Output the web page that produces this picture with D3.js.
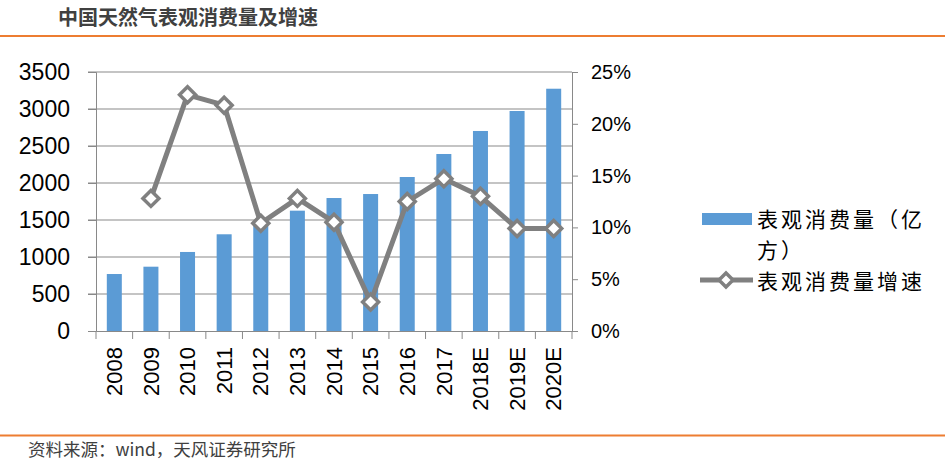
<!DOCTYPE html>
<html><head><meta charset="utf-8">
<script src="https://cdn.jsdelivr.net/npm/d3@7"></script>
<style>body{margin:0;background:#fff;}svg{display:block;}</style>
</head><body>
<svg id="c" width="945" height="463"></svg>
<script>
const categories = ["2008","2009","2010","2011","2012","2013","2014","2015","2016","2017","2018E","2019E","2020E"];
const consumption = [770, 869, 1068, 1307, 1470, 1626, 1797, 1851, 2081, 2392, 2703, 2973, 3274];
const growth = [null, 12.8, 22.8, 21.8, 10.4, 12.8, 10.5, 2.8, 12.5, 14.7, 13.0, 9.9, 9.9];
const leftTicks = [0,500,1000,1500,2000,2500,3000,3500];
const rightTicks = [0,5,10,15,20,25];
const title = "中国天然气表观消费量及增速";
const source = "资料来源：wind，天风证券研究所";
const legendNames = ["表观消费量（亿", "方）", "表观消费量增速"];

const svg = d3.select("#c");
const font = "'Liberation Sans', Arial, sans-serif";
const cjk = "'Noto Sans CJK SC', sans-serif";
const L = 96, R = 572, T = 72, B = 331;

const x = d3.scaleBand().domain(categories).range([L, R]);
const yL = d3.scaleLinear().domain([0, 3500]).range([B, T]);
const yR = d3.scaleLinear().domain([0, 25]).range([B, T]);

// title & rules
svg.append("text").attr("x", 58).attr("y", 25).text(title)
  .attr("font-family", cjk).attr("font-weight", "bold").attr("font-size", 20).attr("fill", "#404040");
svg.append("line").attr("x1", 0).attr("x2", 945).attr("y1", 36).attr("y2", 36).attr("stroke", "#ED7D31").attr("stroke-width", 2);
svg.append("line").attr("x1", 0).attr("x2", 945).attr("y1", 435.5).attr("y2", 435.5).attr("stroke", "#ED7D31").attr("stroke-width", 2);
svg.append("text").attr("x", 28).attr("y", 456).text(source)
  .attr("font-family", cjk).attr("font-size", 17.5).attr("fill", "#404040");

// gridlines
svg.append("g").selectAll("line").data(leftTicks.filter(d => d > 0)).join("line")
  .attr("x1", 88).attr("x2", R).attr("y1", d => yL(d)).attr("y2", d => yL(d))
  .attr("stroke", "#898989").attr("stroke-width", 1);

// bars
svg.append("g").selectAll("rect").data(consumption).join("rect")
  .attr("x", (d, i) => x(categories[i]) + x.bandwidth() / 2 - 7.5)
  .attr("width", 15)
  .attr("y", d => yL(d)).attr("height", d => B - yL(d))
  .attr("fill", "#5B9BD5");

// left axis
const gL = svg.append("g").attr("transform", `translate(${L},0)`)
  .call(d3.axisLeft(yL).tickValues(leftTicks).tickSize(8).tickPadding(18).tickFormat(d3.format("d")));
gL.select(".domain").attr("stroke", "#898989");
gL.selectAll(".tick line").attr("stroke", "#898989");
gL.selectAll("text").attr("font-family", font).attr("font-size", 23).attr("fill", "#000");

// right axis
const gR = svg.append("g").attr("transform", `translate(${R},0)`)
  .call(d3.axisRight(yR).tickValues(rightTicks).tickSize(6).tickPadding(13).tickFormat(d => d + "%"));
gR.select(".domain").attr("stroke", "#898989");
gR.selectAll(".tick line").attr("stroke", "#898989");
gR.selectAll("text").attr("font-family", font).attr("font-size", 20).attr("fill", "#000");

// bottom axis
const gB = svg.append("g").attr("transform", `translate(0,${B})`)
  .call(d3.axisBottom(x).tickSize(0).tickSizeOuter(0));
gB.select(".domain").attr("stroke", "#898989");
gB.selectAll(".tick text")
  .attr("font-family", font).attr("font-size", 22).attr("fill", "#000")
  .attr("transform", "rotate(-90)").attr("text-anchor", "end")
  .attr("x", -16).attr("y", 0).attr("dy", "0.35em");
// category boundary ticks
svg.append("g").selectAll("line").data(d3.range(categories.length + 1)).join("line")
  .attr("x1", i => L + i * x.step()).attr("x2", i => L + i * x.step())
  .attr("y1", B).attr("y2", B + 8).attr("stroke", "#898989");

// line
const pts = growth.map((g, i) => ({c: categories[i], g})).filter(d => d.g !== null);
const line = d3.line().x(d => x(d.c) + x.bandwidth() / 2).y(d => yR(d.g));
svg.append("path").datum(pts).attr("d", line)
  .attr("fill", "none").attr("stroke", "#808080").attr("stroke-width", 5).attr("stroke-linejoin", "round");
const diamond = s => `M0,${-s}L${s},0L0,${s}L${-s},0Z`;
svg.append("g").selectAll("path").data(pts).join("path")
  .attr("transform", d => `translate(${x(d.c) + x.bandwidth() / 2},${yR(d.g)})`)
  .attr("d", diamond(8)).attr("fill", "#fff").attr("stroke", "#808080").attr("stroke-width", 3.5);

// legend
const legText = (t, yy) => svg.append("text").attr("x", 757).attr("y", yy).text(t)
  .attr("font-family", cjk).attr("font-size", 21).attr("letter-spacing", 3).attr("fill", "#000");
svg.append("rect").attr("x", 702).attr("y", 213).attr("width", 50).attr("height", 12).attr("fill", "#5B9BD5");
legText(legendNames[0], 227);
legText(legendNames[1], 258);
svg.append("line").attr("x1", 700).attr("x2", 753).attr("y1", 280).attr("y2", 280)
  .attr("stroke", "#808080").attr("stroke-width", 5);
svg.append("path").attr("transform", "translate(726,280)").attr("d", diamond(7))
  .attr("fill", "#fff").attr("stroke", "#808080").attr("stroke-width", 3.5);
legText(legendNames[2], 289);
</script>
</body></html>
